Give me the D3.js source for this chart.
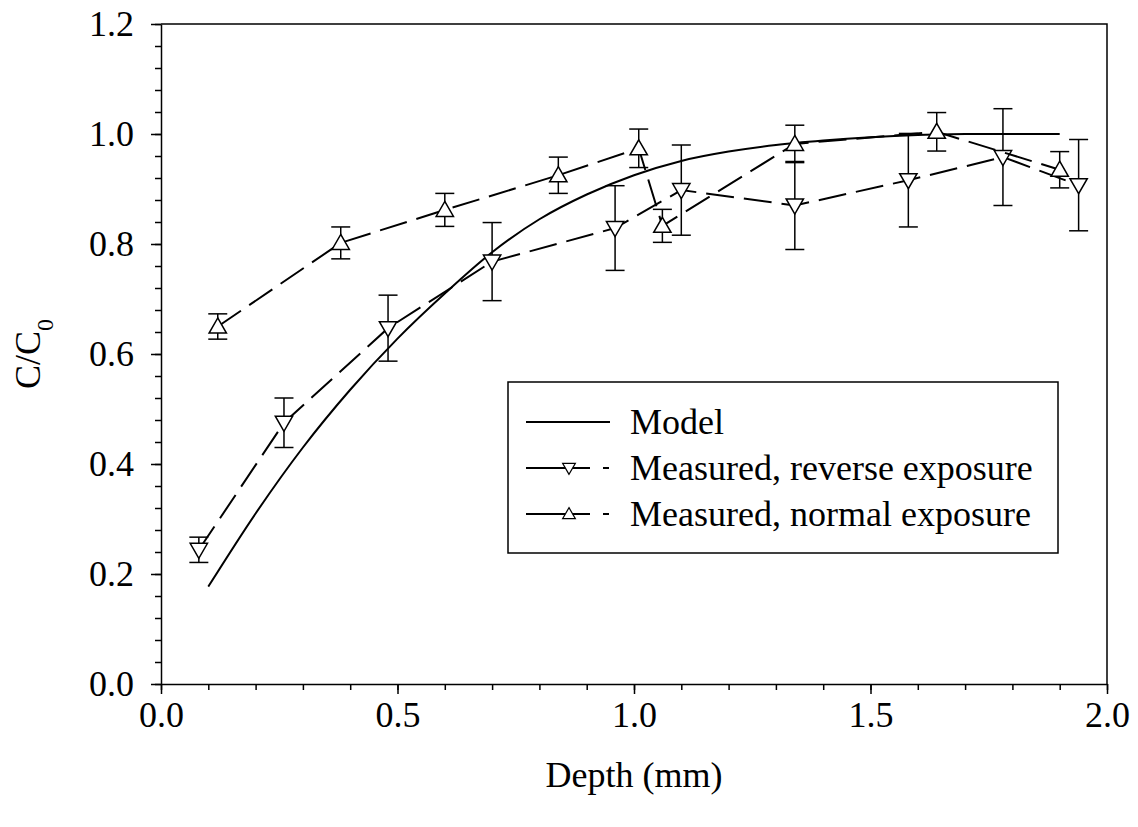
<!DOCTYPE html>
<html>
<head>
<meta charset="utf-8">
<script src="https://cdn.jsdelivr.net/npm/d3@7"></script>
<style>
  body { margin: 0; background: #fff; }
  svg { display: block; }
  text { font-family: "Liberation Serif", "Times New Roman", serif; fill: #000; }
</style>
</head>
<body>
<div id="chart"></div>
<script>
// model curve
const modelDepth = [0.10, 0.20, 0.30, 0.40, 0.50, 0.60, 0.70, 0.80, 0.90, 1.00, 1.10, 1.20, 1.30, 1.40, 1.50, 1.60, 1.70, 1.80, 1.90];
const modelConc  = [0.177, 0.310, 0.430, 0.535, 0.628, 0.710, 0.785, 0.845, 0.890, 0.925, 0.951, 0.968, 0.980, 0.988, 0.994, 0.998, 1.000, 1.000, 1.000];

// measured, reverse exposure
const reverseDepth = [0.08, 0.26, 0.48, 0.70, 0.96, 1.10, 1.34, 1.58, 1.78, 1.94];
const reverseConc  = [0.244, 0.475, 0.647, 0.768, 0.829, 0.898, 0.870, 0.916, 0.958, 0.907];
const reverseErr   = [0.023, 0.045, 0.060, 0.071, 0.077, 0.082, 0.080, 0.085, 0.088, 0.083];

// measured, normal exposure
const normalDepth = [0.12, 0.38, 0.60, 0.84, 1.01, 1.06, 1.34, 1.64, 1.90];
const normalConc  = [0.650, 0.802, 0.862, 0.925, 0.974, 0.833, 0.982, 1.004, 0.935];
const normalErr   = [0.023, 0.029, 0.030, 0.033, 0.035, 0.030, 0.034, 0.035, 0.033];

const xTicks = [0, 0.5, 1.0, 1.5, 2.0];
const yTicks = [0, 0.2, 0.4, 0.6, 0.8, 1.0, 1.2];
const legendLabels = ["Model", "Measured, reverse exposure", "Measured, normal exposure"];

const width = 1138, height = 827;
const margin = { top: 24, right: 31, bottom: 143, left: 161 };
const innerWidth = width - margin.left - margin.right;
const innerHeight = height - margin.top - margin.bottom;

const x = d3.scaleLinear().domain([0, 2]).range([0, innerWidth]);
const y = d3.scaleLinear().domain([0, 1.2]).range([innerHeight, 0]);

const svg = d3.select("#chart")
  .append("svg")
    .attr("width", width)
    .attr("height", height);

const g = svg.append("g")
  .attr("transform", `translate(${margin.left}, ${margin.top})`);

// frame (top and right)
g.append("path")
  .attr("d", `M0,0H${innerWidth}V${innerHeight}`)
  .attr("fill", "none")
  .attr("stroke", "#000")
  .attr("stroke-width", 1.5);

// minor ticks
g.append("g")
  .attr("transform", `translate(0, ${innerHeight})`)
  .call(d3.axisBottom(x).ticks(20).tickSize(6).tickSizeOuter(0))
  .call(a => a.select(".domain").remove())
  .call(a => a.selectAll("text").remove());
g.append("g")
  .call(d3.axisLeft(y).tickValues(d3.range(0, 1.2001, 0.04)).tickSize(6).tickSizeOuter(0))
  .call(a => a.select(".domain").remove())
  .call(a => a.selectAll("text").remove());

// major ticks + labels
const xAxis = g.append("g")
  .attr("transform", `translate(0, ${innerHeight})`)
  .call(d3.axisBottom(x).tickValues(xTicks).tickSize(10).tickSizeOuter(0).tickPadding(7).tickFormat(d3.format(".1f")));
const yAxis = g.append("g")
  .call(d3.axisLeft(y).tickValues(yTicks).tickSize(10).tickSizeOuter(0).tickPadding(17).tickFormat(d3.format(".1f")));

[xAxis, yAxis].forEach(a => {
  a.selectAll("text").style("font-size", "36px").style("font-family", "Liberation Serif");
  a.select(".domain").attr("stroke-width", 1.5);
});
g.selectAll(".tick line").attr("stroke-width", 1.5);

// axis titles
svg.append("text")
  .attr("x", margin.left + x(1))
  .attr("y", 787)
  .attr("text-anchor", "middle")
  .style("font-size", "36px")
  .text("Depth (mm)");

const yTitle = svg.append("text")
  .attr("transform", `translate(40, ${margin.top + innerHeight / 2}) rotate(-90)`)
  .attr("text-anchor", "middle")
  .style("font-size", "36px");
yTitle.append("tspan").text("C/C");
yTitle.append("tspan").attr("baseline-shift", "sub").style("font-size", "24px").text("0");

// model
const modelData = modelDepth.map((d, i) => ({ x: d, y: modelConc[i] }));
g.append("path")
  .datum(modelData)
  .attr("fill", "none")
  .attr("stroke", "#000")
  .attr("stroke-width", 2)
  .attr("d", d3.line().x(d => x(d.x)).y(d => y(d.y)).curve(d3.curveMonotoneX));

const series = [
  { depth: reverseDepth, conc: reverseConc, err: reverseErr, rotate: 180 },
  { depth: normalDepth, conc: normalConc, err: normalErr, rotate: 0 }
];

const triangle = d3.symbol().type(d3.symbolTriangle).size(130);
const capHalf = 9.5;

series.forEach(s => {
  const pts = s.depth.map((d, i) => ({ x: d, y: s.conc[i], e: s.err[i] }));

  // error bars
  const eb = g.append("g").selectAll("g").data(pts).join("g")
    .attr("stroke", "#000")
    .attr("stroke-width", 1.5);
  eb.append("line")
    .attr("x1", d => x(d.x)).attr("x2", d => x(d.x))
    .attr("y1", d => y(d.y + d.e)).attr("y2", d => y(d.y - d.e));
  eb.append("line")
    .attr("x1", d => x(d.x) - capHalf).attr("x2", d => x(d.x) + capHalf)
    .attr("y1", d => y(d.y + d.e)).attr("y2", d => y(d.y + d.e));
  eb.append("line")
    .attr("x1", d => x(d.x) - capHalf).attr("x2", d => x(d.x) + capHalf)
    .attr("y1", d => y(d.y - d.e)).attr("y2", d => y(d.y - d.e));

  // dashed connecting line
  g.append("path")
    .datum(pts)
    .attr("fill", "none")
    .attr("stroke", "#000")
    .attr("stroke-width", 2)
    .attr("stroke-dasharray", "28,10")
    .attr("d", d3.line().x(d => x(d.x)).y(d => y(d.y)));

  // markers
  g.append("g").selectAll("path").data(pts).join("path")
    .attr("d", triangle)
    .attr("transform", d => `translate(${x(d.x)}, ${y(d.y) + (s.rotate ? -1.5 : 1.5)}) rotate(${s.rotate})`)
    .attr("fill", "#fff")
    .attr("stroke", "#000")
    .attr("stroke-width", 1.5);
});

// legend
const legend = svg.append("g");
legend.append("rect")
  .attr("x", 508).attr("y", 382)
  .attr("width", 550).attr("height", 171)
  .attr("fill", "#fff")
  .attr("stroke", "#000")
  .attr("stroke-width", 1.5);

const rowY = [422, 468, 514];
legendLabels.forEach((label, i) => {
  const row = legend.append("g").attr("transform", `translate(0, ${rowY[i]})`);
  row.append("line")
    .attr("x1", 526).attr("x2", i === 0 ? 610 : 609)
    .attr("y1", 0).attr("y2", 0)
    .attr("stroke", "#000")
    .attr("stroke-width", 2)
    .attr("stroke-dasharray", i === 0 ? null : "64,13,6,60");
  if (i > 0) {
    row.append("path")
      .attr("d", d3.symbol().type(d3.symbolTriangle).size(70))
      .attr("transform", `translate(569, ${i === 1 ? -1 : 1}) rotate(${i === 1 ? 180 : 0})`)
      .attr("fill", "#fff")
      .attr("stroke", "#000")
      .attr("stroke-width", 1.2);
  }
  row.append("text")
    .attr("x", 630)
    .attr("y", 12)
    .style("font-size", "36px")
    .text(label);
});
</script>
</body>
</html>
